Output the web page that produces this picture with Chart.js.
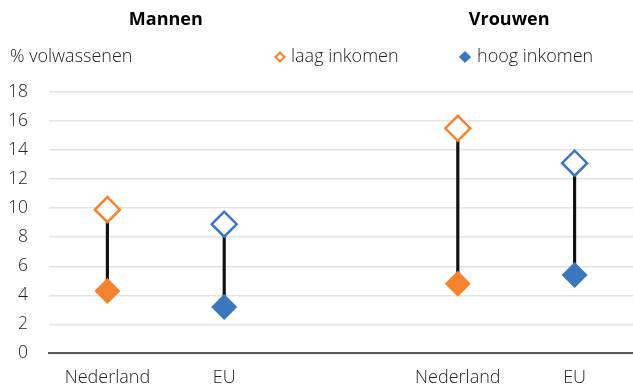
<!DOCTYPE html>
<html>
<head>
<meta charset="utf-8">
<script src="https://cdn.jsdelivr.net/npm/chart.js@4/dist/chart.umd.min.js"></script>
<style>
  html, body { margin: 0; padding: 0; background: #fff; }
  #wrap { width: 633px; height: 385px; }
</style>
</head>
<body>
<div id="wrap"><canvas id="c" width="633" height="385"></canvas></div>
<script>
// Share of adults (%) by income level, men and women, Netherlands vs EU
const categories = ['Nederland', 'EU', '', 'Nederland', 'EU'];
const groupTitles = ['Mannen', 'Vrouwen'];
const laagInkomen = [9.9, 8.9, null, 15.5, 13.1];
const hoogInkomen = [4.3, 3.2, null, 4.8, 5.4];
const yTicks = [0, 2, 4, 6, 8, 10, 12, 14, 16, 18];

const ORANGE = '#F5822F';
const BLUE = '#3A77BF';
const FONT = "'Open Sans', 'Noto Sans', sans-serif";
const TEXT_WEIGHT = 300;
const pointColors = categories.map((c, i) => (c === '' ? 'transparent' : (i % 3 === 0 ? ORANGE : BLUE)));

const ranges = categories.map((c, i) =>
  laagInkomen[i] == null ? null : [hoogInkomen[i], laagInkomen[i]]);

// Group titles, axis caption and legend drawn above the plot
const headerPlugin = {
  id: 'header',
  afterDraw(chart) {
    const ctx = chart.ctx;
    const x = chart.scales.x;
    ctx.save();
    ctx.fillStyle = '#000';
    ctx.textBaseline = 'middle';
    ctx.textAlign = 'center';
    ctx.font = "bold 18px " + FONT;
    ctx.fillText(groupTitles[0], (x.getPixelForValue(0) + x.getPixelForValue(1)) / 2, 20);
    ctx.fillText(groupTitles[1], (x.getPixelForValue(3) + x.getPixelForValue(4)) / 2 - 7, 20);

    ctx.fillStyle = '#222';
    ctx.textAlign = 'left';
    ctx.font = TEXT_WEIGHT + " 18px " + FONT;
    ctx.fillText('% volwassenen', 10, 57);

    const items = [
      { text: 'laag inkomen', x: 280, fill: '#fff', stroke: ORANGE, r: 4.5, tx: 291 },
      { text: 'hoog inkomen', x: 465, fill: BLUE, stroke: BLUE, r: 4.7, tx: 477 }
    ];
    items.forEach(it => {
      ctx.fillStyle = it.fill;
      ctx.strokeStyle = it.stroke;
      ctx.lineWidth = 2;
      Chart.helpers.drawPoint(ctx, { pointStyle: 'rectRot', radius: it.r, rotation: 0, borderWidth: 2 }, it.x, 57);
      ctx.fillStyle = '#222';
      ctx.fillText(it.text, it.tx, 57);
    });
    ctx.restore();
  }
};

new Chart(document.getElementById('c'), {
  data: {
    labels: categories,
    datasets: [
      {
        type: 'scatter',
        label: 'laag inkomen',
        data: laagInkomen.map((v, i) => ({ x: i, y: v })),
        pointStyle: 'rectRot',
        pointRadius: 12.5,
        pointBorderWidth: 2.5,
        pointBackgroundColor: '#fff',
        pointBorderColor: pointColors,
        showLine: false,
        order: 1
      },
      {
        type: 'scatter',
        label: 'hoog inkomen',
        data: hoogInkomen.map((v, i) => ({ x: i, y: v })),
        pointStyle: 'rectRot',
        pointRadius: 13,
        pointBorderWidth: 0,
        pointBackgroundColor: pointColors,
        pointBorderColor: pointColors,
        showLine: false,
        order: 2
      },
      {
        type: 'bar',
        label: 'verschil',
        data: ranges,
        backgroundColor: '#111',
        barThickness: 2.5,
        order: 3
      }
    ]
  },
  options: {
    responsive: false,
    animation: false,
    layout: { autoPadding: false, padding: { top: 92, left: 0, right: 0, bottom: -18 } },
    plugins: {
      legend: { display: false },
      tooltip: { enabled: false },
      title: { display: false }
    },
    scales: {
      x: {
        type: 'category',
        labels: categories,
        offset: true,
        grid: { display: false, drawTicks: false },
        border: { display: true, color: '#595959', width: 2 },
        ticks: { color: '#222', font: { family: FONT, size: 18, weight: TEXT_WEIGHT }, padding: 14, maxRotation: 0 },
        afterFit(scale) { scale.paddingLeft = 0; scale.paddingRight = 0; }
      },
      y: {
        min: 0,
        max: 18,
        afterBuildTicks(scale) { scale.ticks = yTicks.map(v => ({ value: v })); },
        afterFit(scale) { scale.width = 49; },
        grid: { color: '#e3e3e3', lineWidth: 1.5, drawTicks: false },
        border: { display: false },
        ticks: { color: '#222', font: { family: FONT, size: 17.5, weight: TEXT_WEIGHT }, padding: 21 }
      }
    }
  },
  plugins: [headerPlugin]
});
</script>
</body>
</html>
